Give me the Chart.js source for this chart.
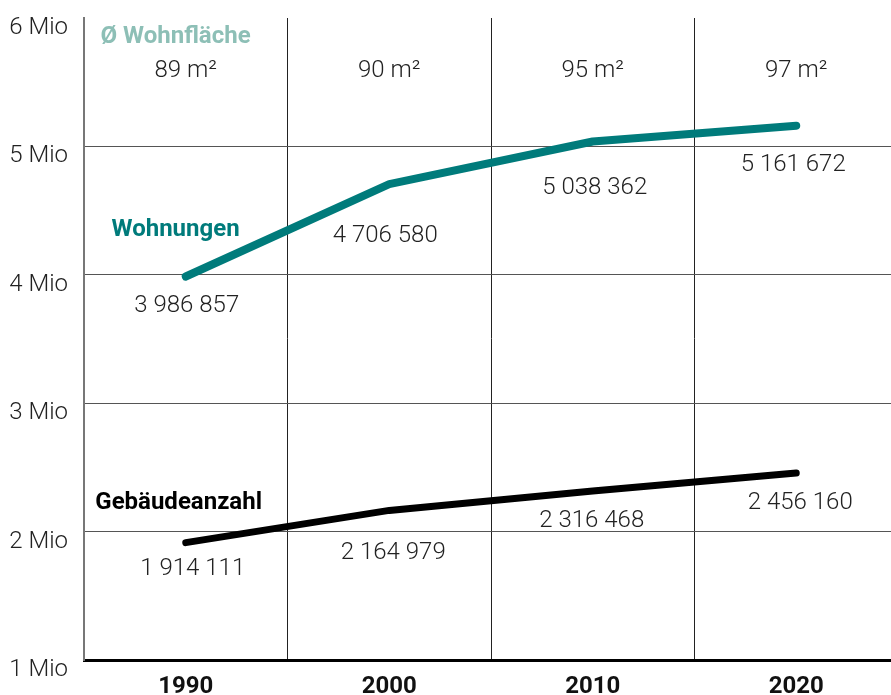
<!DOCTYPE html>
<html><head><meta charset="utf-8">
<script src="https://cdn.jsdelivr.net/npm/chart.js@4"></script>
<style>
html,body{margin:0;padding:0;background:#fff;overflow:hidden;width:891px;height:695px}
#wrap{width:898px;height:695px}
</style></head>
<body><div id="wrap"><canvas id="c" width="898" height="695"></canvas></div>
<script>
const years = ['1990','2000','2010','2020'];
const wohnungen = [3986857, 4706580, 5038362, 5161672];
const gebaeude = [1914111, 2164979, 2316468, 2456160];
const wohnflaeche = ['89 m²','90 m²','95 m²','97 m²'];
const yTickLabels = {1:'1 Mio',2:'2 Mio',3:'3 Mio',4:'4 Mio',5:'5 Mio',6:'6 Mio'};

const fmt = v => String(v).replace(/\B(?=(\d{3})+(?!\d))/g, ' ');

const annot = {
  id: 'annot',
  afterDatasetsDraw(chart, args, opts) {
    const ctx = chart.ctx, xs = chart.scales.x, ys = chart.scales.y;
    const g = opts.baseDy;
    ctx.save();
    ctx.textAlign = 'center';
    ctx.textBaseline = 'middle';
    ctx.font = '300 24px Roboto';
    ctx.fillStyle = '#222';
    chart.data.datasets.forEach((ds, di) => {
      const off = opts.offsets[di];
      ds.data.forEach((v, i) => {
        ctx.fillText(fmt(v), xs.getPixelForValue(i) + off[i][0], ys.getPixelForValue(v) + off[i][1] + g);
      });
    });
    wohnflaeche.forEach((t, i) => {
      ctx.fillText(t, xs.getPixelForValue(i), chart.chartArea.top + opts.areaDy + g);
    });
    ctx.font = 'bold 24px Roboto';
    opts.titles.forEach(t => {
      ctx.fillStyle = t.color;
      ctx.fillText(t.text, xs.getPixelForValue(t.x), ys.getPixelForValue(t.y) + g);
    });
    ctx.restore();
  }
};

new Chart(document.getElementById('c'), {
  type: 'line',
  data: {
    labels: years,
    datasets: [
      {label: 'Wohnungen', data: wohnungen, borderColor: '#007b7b', borderWidth: 8,
       borderCapStyle: 'round', borderJoinStyle: 'round', pointRadius: 0, tension: 0},
      {label: 'Gebäudeanzahl', data: gebaeude, borderColor: '#000', borderWidth: 7,
       borderCapStyle: 'round', borderJoinStyle: 'round', pointRadius: 0, tension: 0}
    ]
  },
  options: {
    responsive: false,
    animation: false,
    layout: {padding: {top: 18, right: 0, left: 0, bottom: 0}},
    plugins: {
      legend: {display: false},
      tooltip: {enabled: false},
      annot: {
        baseDy: 2.5,
        offsets: [
          [[1, 27], [-4, 49], [2, 44], [-3, 37]],
          [[7, 24], [4, 40], [-1, 28], [4, 27]]
        ],
        areaDy: 50,
        titles: [
          {text: 'Ø Wohnfläche', color: '#8dbfb6', x: -0.05, y: 5.87e6},
          {text: 'Wohnungen', color: '#007b7b', x: -0.05, y: 4.37e6},
          {text: 'Gebäudeanzahl', color: '#000', x: -0.035, y: 2.24e6}
        ]
      }
    },
    scales: {
      x: {
        offset: true,
        grid: {offset: true, color: '#222', lineWidth: 1, drawTicks: false},
        border: {color: '#000', width: 3},
        ticks: {color: '#111', font: {family: 'Roboto', weight: 'bold', size: 24}, padding: 13},
        afterFit(s) { s.height = 35; s.paddingLeft = 0; s.paddingRight = 0; }
      },
      y: {
        min: 1e6, max: 6e6,
        grid: {drawTicks: false, lineWidth: 1,
               color: c => (c.tick && (c.tick.value === 6e6 || c.tick.value === 1e6)) ? 'rgba(0,0,0,0)' : '#555'},
        border: {color: '#777', width: 2},
        ticks: {stepSize: 1e6, color: '#222', font: {family: 'Roboto', weight: '300', size: 24},
                crossAlign: 'near', padding: 16, labelOffset: 10,
                callback: v => yTickLabels[Math.round(v / 1e6)]},
        afterFit(s) { s.width = 84; s.paddingTop = 0; s.paddingBottom = 0; }
      }
    }
  },
  plugins: [annot]
});
</script></body></html>
